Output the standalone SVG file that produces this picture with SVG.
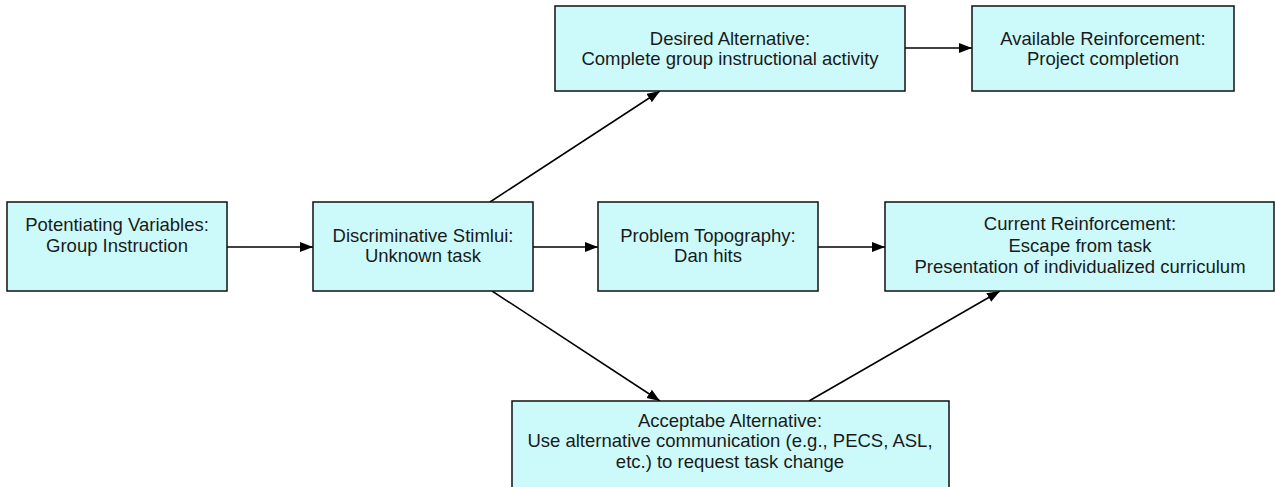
<svg xmlns="http://www.w3.org/2000/svg" width="1276" height="487" viewBox="0 0 1276 487">
  <style>
    .box { fill: #ccfafb; stroke: #111; stroke-width: 1.5; }
    .lbl { font-family: "Liberation Sans", Arial, sans-serif; font-size: 18.5px; fill: #1a1a1a; text-anchor: middle; }
    .edge { stroke: #000; stroke-width: 1.5; fill: none; marker-end: url(#arrow); }
  </style>
  <defs>
    <marker id="arrow" markerUnits="userSpaceOnUse" markerWidth="14" markerHeight="12" refX="13" refY="5" orient="auto">
      <path d="M0,0 L13,5 L0,10 Z" fill="#000"/>
    </marker>
  </defs>
  <rect width="1276" height="487" fill="#fff"/>

  <g id="connectors">
    <line class="edge" x1="227" y1="247" x2="313" y2="247"/>
    <line class="edge" x1="533" y1="247" x2="598" y2="247"/>
    <line class="edge" x1="818" y1="247" x2="885" y2="247"/>
    <line class="edge" x1="905" y1="48" x2="972" y2="48"/>
    <line class="edge" x1="490" y1="202" x2="660" y2="91"/>
    <line class="edge" x1="492" y1="291" x2="660" y2="401"/>
    <line class="edge" x1="809" y1="401" x2="1000" y2="291"/>
  </g>

  <g id="potentiating">
    <rect class="box" x="7" y="202" width="220" height="89"/>
    <text class="lbl" x="117" y="231">Potentiating Variables:</text>
    <text class="lbl" x="117" y="252">Group Instruction</text>
  </g>

  <g id="discriminative">
    <rect class="box" x="313" y="202" width="220" height="89"/>
    <text class="lbl" x="423" y="242">Discriminative Stimlui:</text>
    <text class="lbl" x="423" y="262">Unknown task</text>
  </g>

  <g id="problem">
    <rect class="box" x="598" y="202" width="220" height="89"/>
    <text class="lbl" x="708" y="242">Problem Topography:</text>
    <text class="lbl" x="708" y="262">Dan hits</text>
  </g>

  <g id="current">
    <rect class="box" x="885" y="202" width="389" height="89"/>
    <text class="lbl" x="1080" y="230">Current Reinforcement:</text>
    <text class="lbl" x="1080" y="252">Escape from task</text>
    <text class="lbl" x="1080" y="273">Presentation of individualized curriculum</text>
  </g>

  <g id="desired">
    <rect class="box" x="555" y="6" width="350" height="85"/>
    <text class="lbl" x="730" y="45">Desired Alternative:</text>
    <text class="lbl" x="730" y="65">Complete group instructional activity</text>
  </g>

  <g id="available">
    <rect class="box" x="972" y="6" width="262" height="85"/>
    <text class="lbl" x="1103" y="45">Available Reinforcement:</text>
    <text class="lbl" x="1103" y="65">Project completion</text>
  </g>

  <g id="acceptable">
    <rect class="box" x="512" y="401" width="437" height="90"/>
    <text class="lbl" x="730" y="427">Acceptabe Alternative:</text>
    <text class="lbl" x="730" y="447">Use alternative communication (e.g., PECS, ASL,</text>
    <text class="lbl" x="730" y="468">etc.) to request task change</text>
  </g>
</svg>
